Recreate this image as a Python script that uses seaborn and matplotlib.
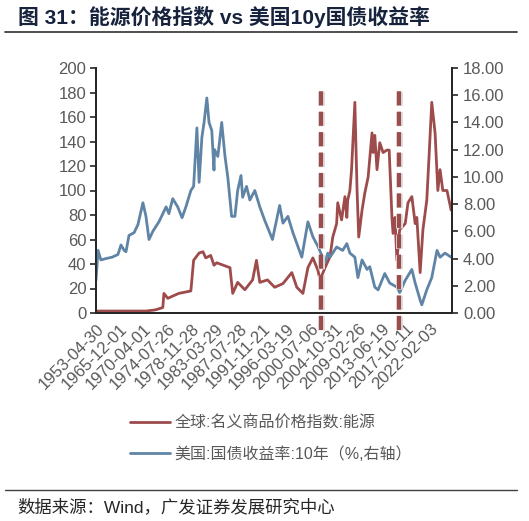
import numpy as np
import pandas as pd
import matplotlib
matplotlib.use("Agg")
import matplotlib.pyplot as plt
import matplotlib.patheffects as pe
from matplotlib.lines import Line2D
import seaborn as sns

sns.set_theme(style="white")
plt.rcParams["font.family"] = ["Liberation Sans", "Noto Sans CJK SC", "DejaVu Sans"]

# ---------------- datos ----------------
tick_labels = ["1953-04-30", "1965-12-01", "1970-04-01", "1974-07-26", "1978-11-28",
               "1983-03-29", "1987-07-28", "1991-11-21", "1996-03-19", "2000-07-06",
               "2004-10-31", "2009-02-26", "2013-06-19", "2017-10-11", "2022-02-03"]

# 全球:名义商品价格指数:能源 (eje izq)
energy_t = [1953.33, 1970.65, 1972.3, 1973.4, 1973.7, 1973.9, 1974.6, 1976.6, 1978.8,
            1979.3, 1980.3, 1981.0, 1981.5, 1982.4, 1983.0, 1983.5, 1985.9, 1986.4,
            1987.3, 1988.6, 1990.0, 1990.7, 1991.3, 1992.7, 1994.0, 1995.5, 1997.1,
            1998.0, 1999.1, 2000.0, 2000.9, 2001.8, 2002.2, 2003.1, 2004.0, 2004.5,
            2005.2, 2005.4, 2006.1, 2006.7, 2007.05, 2007.2, 2007.6, 2007.9, 2008.5,
            2008.9, 2009.2, 2009.8, 2010.3, 2010.9, 2011.6, 2011.8, 2012.1, 2012.5,
            2013.0, 2013.6, 2014.3, 2014.7, 2015.2, 2015.4, 2015.75, 2016.1, 2016.6,
            2017.6, 2018.1, 2018.8, 2019.4, 2019.7, 2020.3, 2020.8, 2021.5, 2021.9,
            2022.4, 2023.0, 2023.5, 2023.9, 2024.4, 2025.15, 2025.9]
energy_v = [1.6, 1.6, 2.5, 4, 4.5, 16, 12, 16, 18,
            43, 49, 50, 45, 47, 39, 41, 37, 16,
            25, 19, 27, 43, 25, 27, 21, 24, 33,
            21, 16, 37, 45, 35, 27, 37, 46, 62,
            73, 90, 76, 95, 78, 92, 100, 117, 172,
            100, 62, 84, 98, 111, 147, 131, 145, 117,
            139, 131, 133, 133, 78, 65, 78, 43, 68,
            73, 90, 95, 73, 78, 33, 68, 92, 127,
            172, 147, 100, 117, 100, 100, 84]

# 美国:国债收益率:10年 (eje der, %)
yield_t = [1953.33, 1954.4, 1955.9, 1958.6, 1961.8, 1964.9, 1966.12, 1966.7, 1967.03,
           1967.57, 1968.5, 1969.2, 1970.1, 1970.65, 1971.2, 1971.9, 1973.0, 1974.3,
           1974.8, 1975.5, 1976.4, 1977.2, 1977.9, 1978.8, 1979.3, 1979.9, 1980.3,
           1980.8, 1981.2, 1981.7, 1982.1, 1982.6, 1983.0, 1983.1, 1983.7, 1984.4,
           1985.0, 1985.5, 1986.2, 1986.8, 1987.3, 1987.9, 1988.2, 1988.9, 1989.5,
           1990.4, 1991.3, 1992.2, 1993.6, 1994.9, 1995.5, 1996.4, 1997.3, 1998.9,
           2000.0, 2000.9, 2001.8, 2003.1, 2003.6, 2004.0, 2005.2, 2006.3, 2007.05,
           2007.6, 2008.5, 2009.05, 2009.8, 2010.7, 2011.2, 2012.1, 2012.7, 2013.9,
           2014.8, 2016.1, 2016.6, 2017.6, 2018.8, 2019.4, 2020.3, 2020.6, 2021.5,
           2022.4, 2023.35, 2023.9, 2024.8, 2025.9]
yield_v = [2.4, 4.6, 3.9, 4.0, 4.1, 4.3, 5.0, 4.6, 4.5,
           5.7, 5.9, 6.5, 8.1, 7.1, 5.4, 6.0, 6.7, 7.8,
           7.3, 8.4, 7.8, 7.0, 7.8, 9.0, 9.3, 13.6, 9.6,
           12.9, 14.0, 15.8, 14.0, 13.4, 10.5, 12.0, 11.5, 14.0,
           11.5, 10.0, 7.1, 7.1, 9.0, 10.1, 8.5, 9.3, 8.3,
           9.0, 7.8, 6.8, 5.4, 7.9, 6.6, 7.1, 5.9, 4.1,
           6.7, 5.6, 4.9, 3.7, 4.4, 4.1, 4.85, 4.6, 5.1,
           4.4, 4.1, 2.6, 3.9, 3.2, 3.4, 1.9, 1.7, 2.9,
           2.2, 1.9, 1.5, 2.4, 3.2, 2.2, 0.95, 0.6, 1.7,
           2.6, 4.6, 4.1, 4.4, 4.1]

marker_t = [2002.35, 2016.47]   # lineas verticales punteadas

RED = "#9e4b4b"
BLUE = "#5f84a6"
GREY = "#595959"
AXC = "#262626"

# eje de categorias: cada etiqueta es un paso igual
td = pd.to_datetime(tick_labels)
tick_years = list(td.year + (td.dayofyear - 1) / 365.25)
tick_years.append(tick_years[-1] + (tick_years[-1] - tick_years[-2]))
tick_idx = np.arange(len(tick_years))


def to_pos(t):
    return np.interp(t, tick_years, tick_idx)


df_e = pd.DataFrame({"pos": to_pos(energy_t), "val": energy_v})
df_y = pd.DataFrame({"pos": to_pos(yield_t), "val": yield_v})

fig = plt.figure(figsize=(5.29, 5.21), dpi=100)
ax = fig.add_axes([96 / 529, 1 - 313 / 521, 356 / 529, 245 / 521])
ax2 = ax.twinx()

sns.lineplot(data=df_e, x="pos", y="val", ax=ax, color=RED, lw=2.0,
             label="全球:名义商品价格指数:能源", legend=False)
sns.lineplot(data=df_y, x="pos", y="val", ax=ax2, color=BLUE, lw=2.0,
             label="美国:国债收益率:10年（%,右轴）", legend=False)

for t in marker_t:
    ax2.axvline(to_pos(t), ymin=-0.069, ymax=0.918, color=RED, lw=3.0,
                ls=(0, (3.4, 1.5)), clip_on=False,
                path_effects=[pe.Stroke(linewidth=5, foreground="#dedede"), pe.Normal()])

ax.set_xlim(0, 14.92)
ax.set_ylim(0, 200)
ax2.set_ylim(0, 18)
ax.set_yticks(range(0, 201, 20))
ax2.set_yticks(range(0, 19, 2))
ax2.set_yticklabels([f"{v:.2f}" for v in range(0, 19, 2)])
ax.set_xticks(range(len(tick_labels)))
ax.set_xticklabels(tick_labels, rotation=45, ha="right", va="top", rotation_mode="anchor")
ax.set_xlabel("")
ax.set_ylabel("")
ax2.set_ylabel("")

for a in (ax, ax2):
    for s in a.spines.values():
        s.set_color(AXC)
        s.set_linewidth(1.3)
    a.spines["top"].set_visible(False)
    a.tick_params(direction="out", length=4, width=1.2, color=AXC,
                  labelcolor=GREY, labelsize=12)
    a.grid(False)
ax.tick_params(axis="x", pad=2)
ax.tick_params(axis="y", left=True, pad=3)
ax2.tick_params(axis="y", right=True, pad=4)

h1, l1 = ax.get_legend_handles_labels()
h2, l2 = ax2.get_legend_handles_labels()
leg = fig.legend(h1 + h2, l1 + l2, loc="upper left", bbox_to_anchor=(130 / 529, 1 - 415 / 521),
                 frameon=False, fontsize=11.5, handlelength=2.5, handletextpad=0.3,
                 labelspacing=1.0, borderpad=0, borderaxespad=0)
for txt in leg.get_texts():
    txt.set_color(GREY)

fig.text(18 / 529, 1 - 17 / 521, "图 31：能源价格指数 vs 美国10y国债收益率",
         fontsize=15, fontweight="bold", color="#17233d", va="center",
         family=["Liberation Sans", "Noto Sans CJK SC"])
fig.add_artist(Line2D([5 / 529, 517 / 529], [1 - 32 / 521] * 2, color="#404040", lw=1.3))
fig.add_artist(Line2D([5 / 529, 517 / 529], [1 - 490 / 521] * 2, color="#404040", lw=1.0))
fig.text(17 / 529, 1 - 507 / 521, "数据来源：Wind，广发证券发展研究中心",
         fontsize=12.5, color="#262626", va="center",
         family=["Liberation Sans", "Noto Sans CJK SC"])

fig.savefig("out.png", dpi=100)
